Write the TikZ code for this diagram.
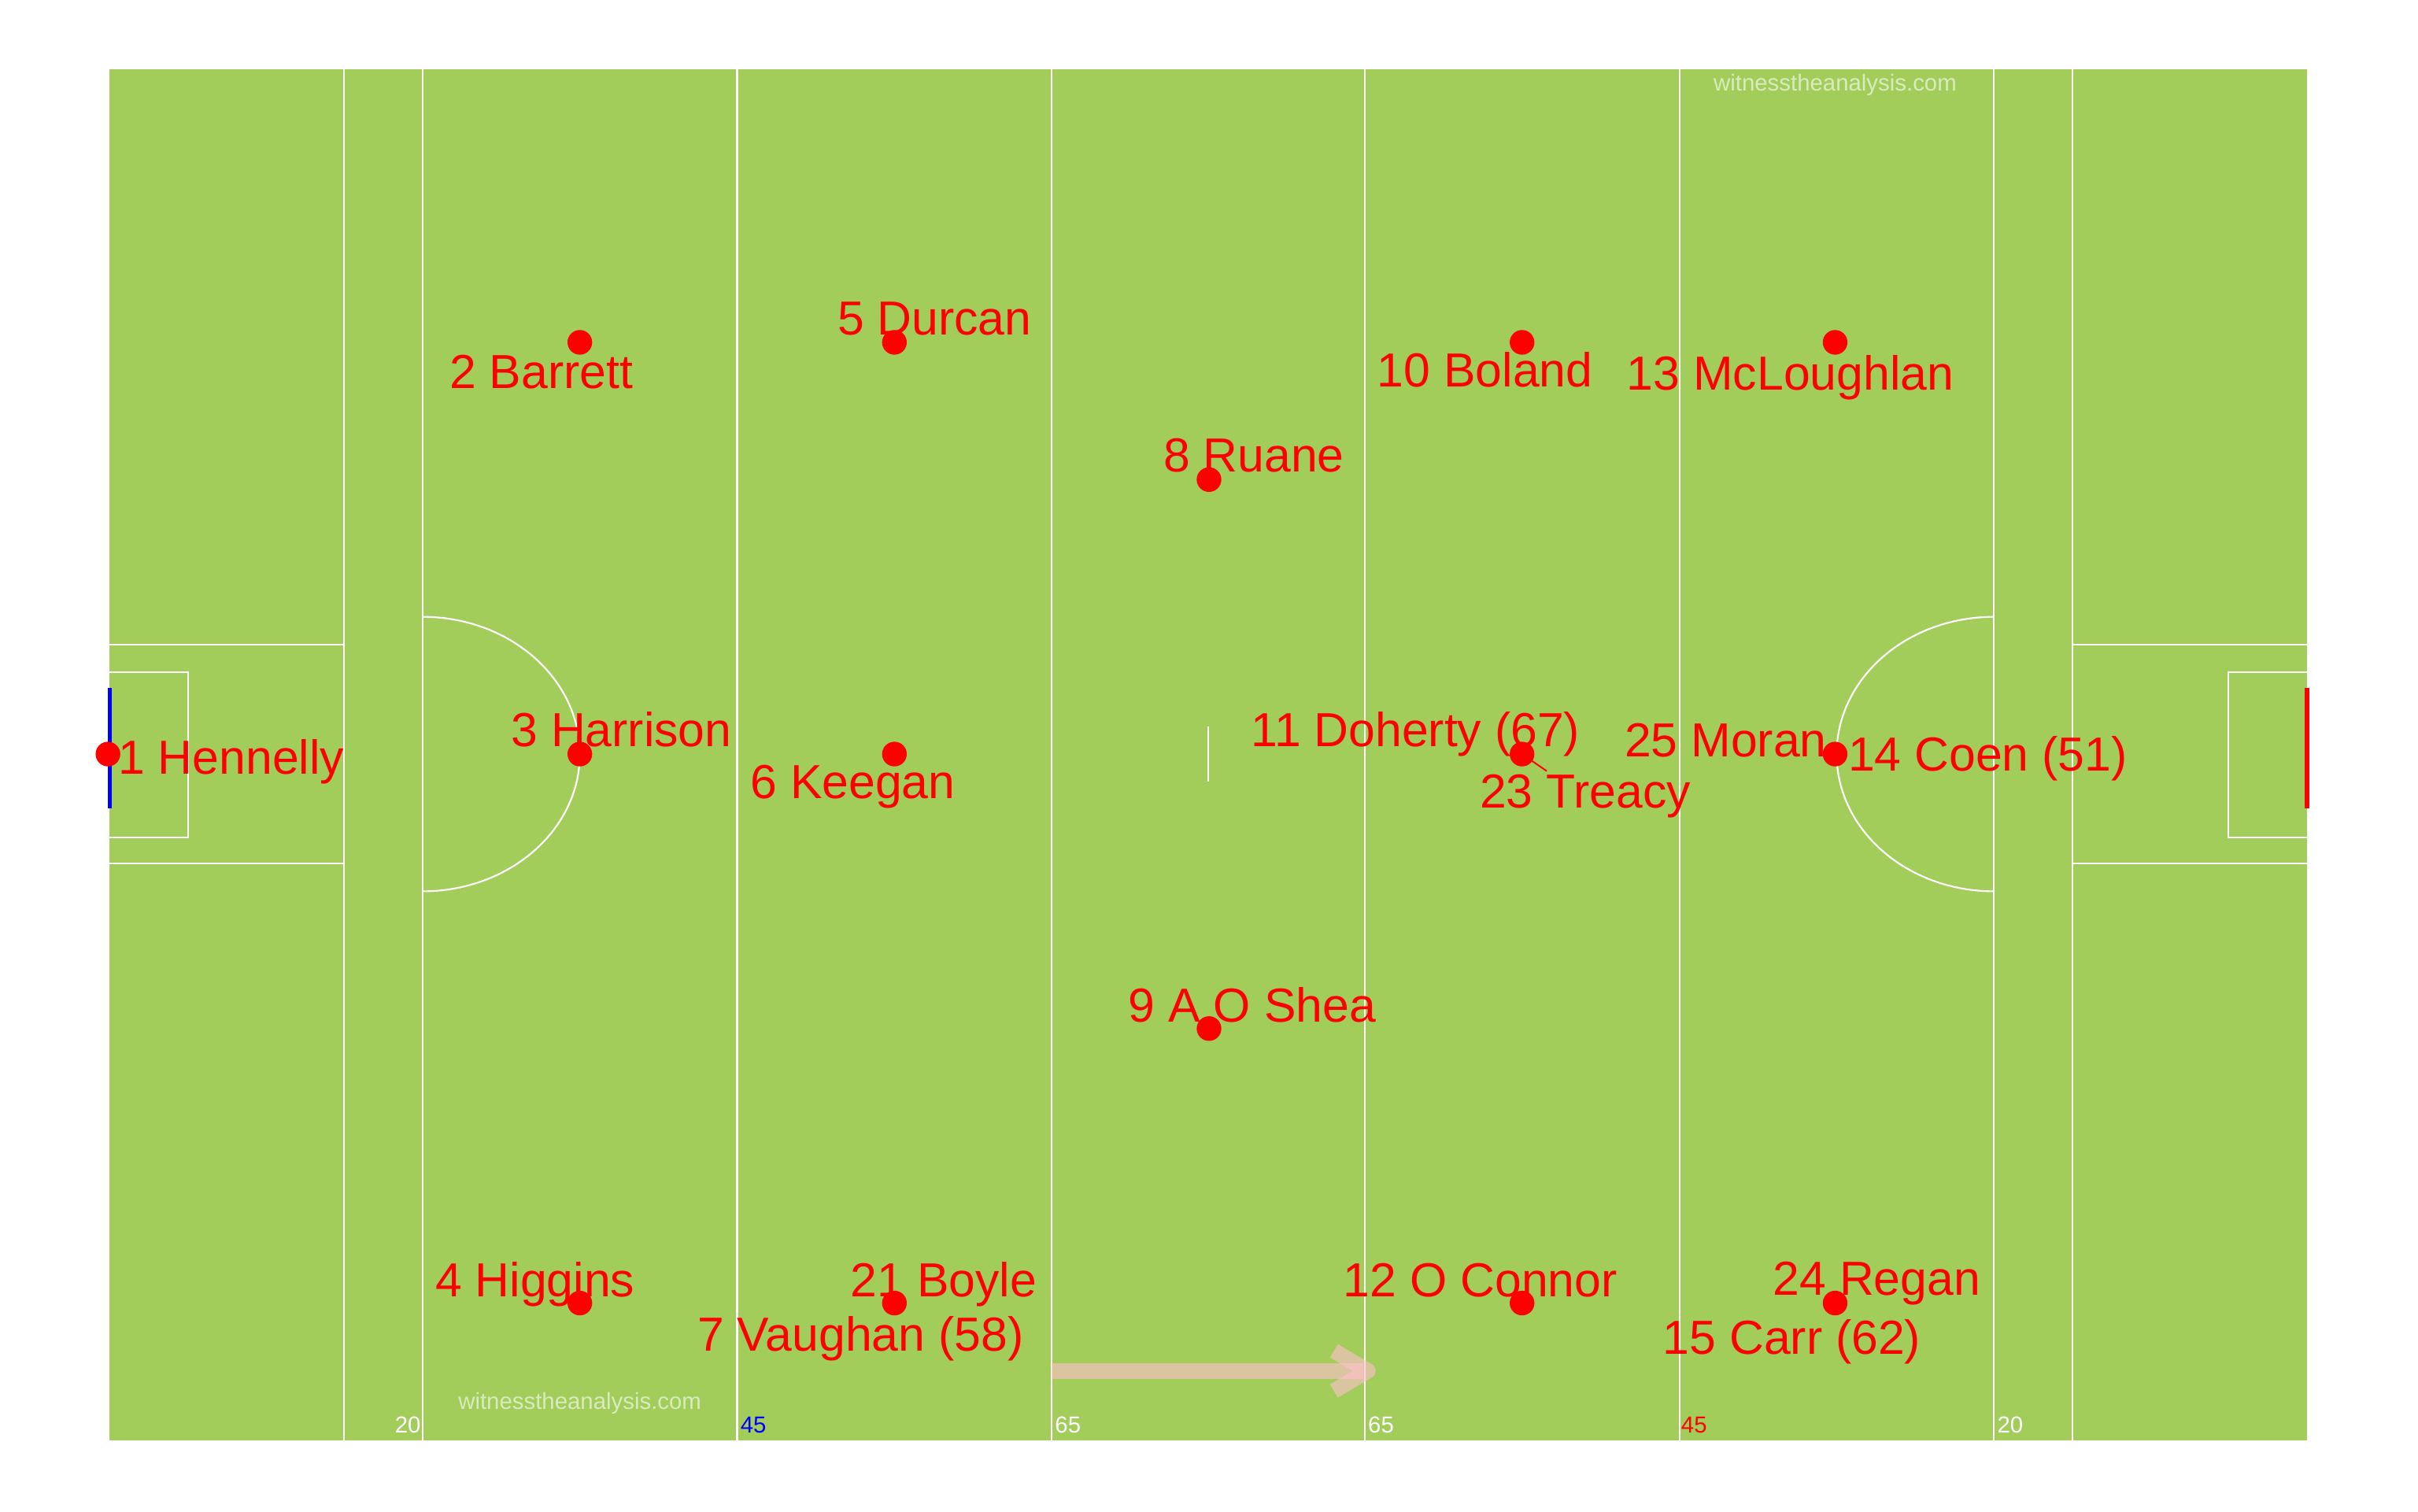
\documentclass[tikz,border=0pt]{standalone}
\usepackage{fontspec}
\setmainfont{Liberation Sans}
\definecolor{pitchgreen}{RGB}{162,205,90}
\definecolor{arrowpink}{RGB}{255,192,203}
\begin{document}
\begin{tikzpicture}[x=1pt,y=-1pt,
  pline/.style={white, line width=1.1pt},
  player/.style={circle, fill=red, draw=none, inner sep=0pt, minimum size=16pt},
  plabel/.style={text=red, font=\fontsize{31}{36}\selectfont, anchor=base, inner sep=0pt},
  distmark/.style={font=\fontsize{15}{17}\selectfont, anchor=base, inner sep=0pt},
  wm/.style={text=white, text opacity=0.6, font=\fontsize{15}{18}\selectfont, anchor=base, inner sep=0pt},
  leader/.style={red, line width=1pt},
  goalline/.style={line width=2.6pt},
  dirarrow/.style={arrowpink, opacity=0.62, line width=10pt}
]
\useasboundingbox (0,0) rectangle (1568,980);
\fill[white] (0,0) rectangle (1568,980);
% pitch
\fill[pitchgreen] (71,45) rectangle (1496,934);
% vertical lines
\foreach \x in {223,274,478,682,885,1089,1293,1344}
  \draw[pline] (\x,45) -- (\x,934);
% halfway mark
\draw[pline] (783.5,471) -- (783.5,507);
% left end boxes
\draw[pline] (71,418) -- (223,418);
\draw[pline] (71,560) -- (223,560);
\draw[pline] (71,436) -- (122,436) -- (122,543) -- (71,543);
% right end boxes
\draw[pline] (1344,418) -- (1496,418);
\draw[pline] (1344,560) -- (1496,560);
\draw[pline] (1496,436) -- (1445,436) -- (1445,543) -- (1496,543);
% arcs
\draw[pline] (274,400) arc[start angle=-90, end angle=90, x radius=102, y radius=89];
\draw[pline] (1293,400) arc[start angle=-90, end angle=-270, x radius=102, y radius=89];
% goals
\draw[goalline, blue] (71,446) -- (71,524);
\draw[goalline, red] (1496,446) -- (1496,524);
% distance markers
\node[distmark, white, anchor=base east] (m20l) at (273,929) {20};
\node[distmark, blue, anchor=base west] (m45l) at (480,929) {45};
\node[distmark, white, anchor=base west] (m65l) at (684,929) {65};
\node[distmark, white, anchor=base west] (m65r) at (887,929) {65};
\node[distmark, red, anchor=base west] (m45r) at (1090,929) {45};
\node[distmark, white, anchor=base west] (m20r) at (1295,929) {20};
% watermarks
\node[wm] (wmtop) at (1190,59) {witnesstheanalysis.com};
\node[wm] (wmbot) at (376,914) {witnesstheanalysis.com};
% direction arrow
\coordinate (arrS) at (682,889);
\coordinate (arrE) at (884,889);
\coordinate (chevA) at (865,876);
\coordinate (chevT) at (887,889);
\coordinate (chevB) at (865,902);
\draw[dirarrow] (arrS) -- (arrE);
\draw[dirarrow, line join=round, line cap=butt] (chevA) -- (chevT) -- (chevB);
% players
\node[player] (p1) at (70,489) {};
\node[player] (p2) at (376,222) {};
\node[player] (p3) at (376,489) {};
\node[player] (p4) at (376,845) {};
\node[player] (p5) at (580,222) {};
\node[player] (p6) at (580,489) {};
\node[player] (p21) at (580,845) {};
\node[player] (p8) at (784,311) {};
\node[player] (p9) at (784,667) {};
\node[player] (p10) at (987,222) {};
\node[player] (p11) at (987,489) {};
\node[player] (p12) at (987,845) {};
\node[player] (p13) at (1190,222) {};
\node[player] (p14) at (1190,489) {};
\node[player] (p24) at (1190,845) {};
% leader for Treacy
\coordinate (trEnd) at (1003,500);
\draw[leader] (p11.center) -- (trEnd);
% labels
\node[plabel] (l1) at (150,502) {1 Hennelly};
\node[plabel] (l2) at (351,252) {2 Barrett};
\node[plabel] (l3) at (403,484) {3 Harrison};
\node[plabel] (l4) at (347,841) {4 Higgins};
\node[plabel] (l5) at (606,217) {5 Durcan};
\node[plabel] (l6) at (553,518) {6 Keegan};
\node[plabel] (l21) at (612,841) {21 Boyle};
\node[plabel] (l7) at (558,876) {7 Vaughan (58)};
\node[plabel] (l8) at (813,306) {8 Ruane};
\node[plabel] (l9) at (812,663) {9 A O Shea};
\node[plabel] (l10) at (963,251) {10 Boland};
\node[plabel] (l11) at (918,484) {11 Doherty (67)};
\node[plabel] (l23) at (1028,524) {23 Treacy};
\node[plabel] (l12) at (960,841) {12 O Connor};
\node[plabel] (l13) at (1161,253) {13 McLoughlan};
\node[plabel] (l25) at (1119,491) {25 Moran};
\node[plabel] (l14) at (1289,500) {14 Coen (51)};
\node[plabel] (l24) at (1217,840) {24 Regan};
\node[plabel] (l15) at (1162,878) {15 Carr (62)};
\end{tikzpicture}
\end{document}
